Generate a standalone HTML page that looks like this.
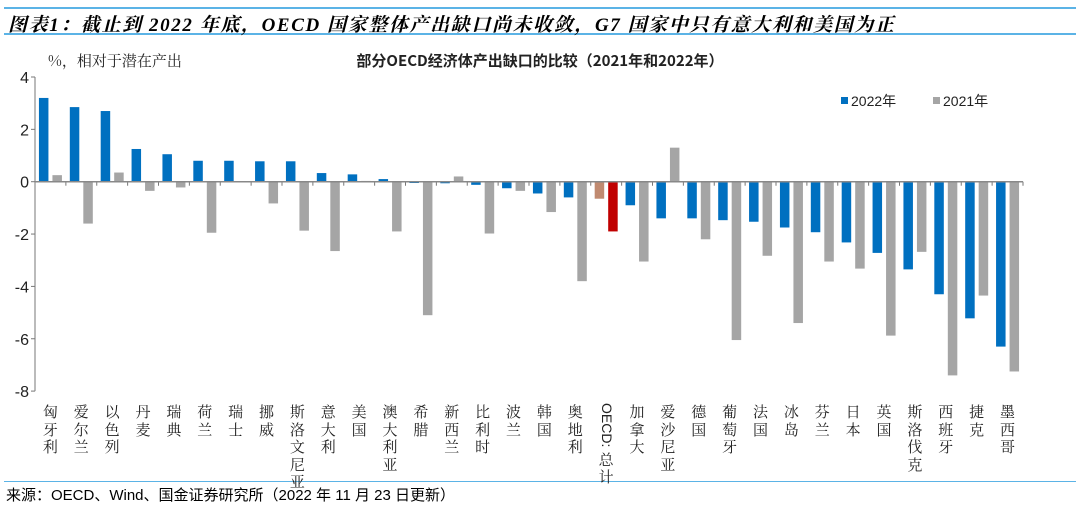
<!DOCTYPE html>
<html><head><meta charset="utf-8">
<style>
body{margin:0;width:1080px;height:504px;background:#fff;overflow:hidden;position:relative;font-family:"Liberation Sans","Noto Sans CJK SC",sans-serif}
.hdr{position:absolute;left:4px;top:7px;width:1072px;height:28px;border-top:2px solid #5bb3e6;border-bottom:2px solid #5bb3e6;box-sizing:border-box}
.hdr span{position:absolute;left:4px;top:1px;font:italic bold 19px "Liberation Serif","Noto Serif CJK SC",serif;letter-spacing:1.6px;color:#000;white-space:nowrap}
.ftr{position:absolute;left:4px;top:481px;width:1072px;border-top:1px solid #5bb3e6}
.ftr span{position:absolute;left:2px;top:2px;font-size:15px;white-space:nowrap}
.lbl{position:absolute;top:403px;width:18px;font:15px/17.5px "Noto Serif CJK SC",serif;text-align:center;color:#222}
</style></head><body>
<div class="hdr"><span>图表1：截止到 2022 年底，OECD 国家整体产出缺口尚未收敛，G7 国家中只有意大利和美国为正</span></div>
<svg id="c" width="1080" height="504" style="position:absolute;left:0;top:0"></svg>
<div class="ftr"><span>来源：OECD、Wind、国金证券研究所（2022 年 11 月 23 日更新）</span></div>
<script>
const categories=["匈牙利","爱尔兰","以色列","丹麦","瑞典","荷兰","瑞士","挪威","斯洛文尼亚","意大利","美国","澳大利亚","希腊","新西兰","比利时","波兰","韩国","奥地利","OECD:总计","加拿大","爱沙尼亚","德国","葡萄牙","法国","冰岛","芬兰","日本","英国","斯洛伐克","西班牙","捷克","墨西哥"];
const values2022=[3.2,2.85,2.7,1.25,1.05,0.8,0.8,0.78,0.78,0.33,0.28,0.1,-0.05,-0.06,-0.12,-0.25,-0.45,-0.6,-0.65,-0.9,-1.4,-1.4,-1.47,-1.53,-1.75,-1.93,-2.32,-2.72,-3.35,-4.3,-5.22,-6.3];
const values2021=[0.25,-1.6,0.35,-0.35,-0.22,-1.95,0,-0.83,-1.87,-2.65,0.03,-1.9,-5.1,0.2,-1.98,-0.35,-1.16,-3.8,-1.9,-3.05,1.3,-2.2,-6.05,-2.83,-5.4,-3.05,-3.32,-5.88,-2.68,-7.4,-4.35,-7.25];
const yTicks=[4,2,0,-2,-4,-6,-8];
const ns="http://www.w3.org/2000/svg",svg=document.getElementById('c');
const X0=35,X1=1023,Y4=77,Y0=181.7,ppu=(Y0-Y4)/4;
const y=v=>Y0-v*ppu, step=(X1-X0)/categories.length, xc=i=>X0+step*i;
function mk(t,a,p){const e=document.createElementNS(ns,t);for(const k in a)e.setAttribute(k,a[k]);(p||svg).appendChild(e);return e;}
let t=mk('text',{x:48,y:66,'font-size':15,'font-family':'"Noto Serif CJK SC",serif',fill:'#222'});t.textContent='%，相对于潜在产出';

t=mk('text',{x:540,y:66,'font-size':15,'font-weight':'bold','text-anchor':'middle','font-family':'"Noto Sans CJK SC",sans-serif',fill:'#222'});t.textContent='部分OECD经济体产出缺口的比较（2021年和2022年）';

let ax=mk('line',{x1:X0,y1:Y4,x2:X0,y2:y(-8),stroke:'#777'});

yTicks.forEach(v=>{mk('line',{x1:X0-4,y1:y(v),x2:X0,y2:y(v),stroke:'#777'});
 const tt=mk('text',{x:X0-6,y:y(v)+6,'font-size':16,'text-anchor':'end',fill:'#222'});tt.textContent=v;
 });
const bw=9.5;
categories.forEach((c,i)=>{
 const cx=xc(i)+step/2, oe=c==='OECD:总计';
 const b1=mk('rect',{x:cx-bw-2,y:Math.min(y(values2022[i]),Y0),width:bw,height:Math.abs(y(values2022[i])-Y0),fill:oe?'#c08a70':'#0070c0'});
 
 const b2=mk('rect',{x:cx+2,y:Math.min(y(values2021[i]),Y0),width:bw,height:Math.abs(y(values2021[i])-Y0),fill:oe?'#c00000':'#a5a5a5'});
 
 mk('line',{x1:xc(i+1),y1:Y0,x2:xc(i+1),y2:Y0+4,stroke:'#777'});
 const d=document.createElement('div');d.className='lbl';d.style.left=(cx-9)+'px';
 d.innerHTML=oe?'<span style="writing-mode:vertical-rl;font-family:Liberation Sans;font-size:14px;display:inline-block">OECD:</span><br>总<br>计':c.split('').join('<br>');
 
 document.body.appendChild(d);
});
let za=mk('line',{x1:X0,y1:Y0,x2:X1,y2:Y0,stroke:'#888','stroke-width':1.5});

[['#0070c0','2022年',841],['#a5a5a5','2021年',933]].forEach(l=>{
 const g=mk('g',{});
 mk('rect',{x:l[2],y:97,width:7,height:7,fill:l[0]},g);
 const tx=mk('text',{x:l[2]+10,y:106,'font-size':14,fill:'#222'},g);tx.textContent=l[1];});
</script>
</body></html>
